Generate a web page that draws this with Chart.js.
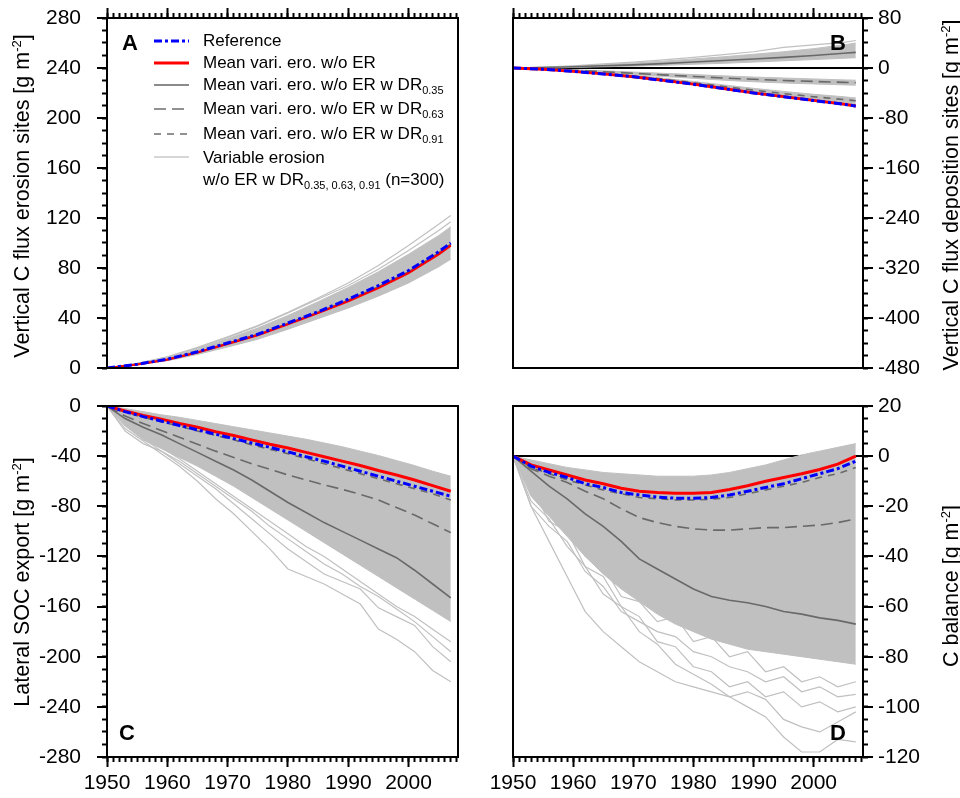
<!DOCTYPE html>
<html>
<head>
<meta charset="utf-8">
<script src="https://cdn.jsdelivr.net/npm/chart.js@4"></script>
<style>
  body { margin: 0; background: #fff; font-family: "Liberation Sans", Arial, Helvetica, sans-serif; }
  #wrap { position: relative; width: 960px; height: 798px; overflow: hidden; }
  canvas { position: absolute; }
  .t { position: absolute; white-space: nowrap; color: #000; }
  .ttl { font-size: 21.5px; transform: translate(-50%, -50%) rotate(-90deg); }
  .ltr { font-size: 22px; font-weight: bold; line-height: 26px; }
  .lg { font-size: 17px; line-height: 20px; left: 203px; }
  sub { font-size: 11px; vertical-align: -4px; line-height: 0; }
  sup { font-size: 13px; vertical-align: 8px; line-height: 0; }
</style>
</head>
<body>
<div id="wrap">
  <canvas id="cA" width="480" height="400" style="left:0;top:0"></canvas>
  <canvas id="cB" width="480" height="400" style="left:480px;top:0"></canvas>
  <canvas id="cC" width="480" height="418" style="left:0;top:380px"></canvas>
  <canvas id="cD" width="480" height="418" style="left:480px;top:380px"></canvas>

  <div class="t ttl" style="left:22px;top:196px">Vertical C flux erosion sites [g m<sup>-2</sup>]</div>
  <div class="t ttl" style="left:22px;top:582px">Lateral SOC export [g m<sup>-2</sup>]</div>
  <div class="t ttl" style="left:951px;top:195px">Vertical C flux deposition sites [g m<sup>-2</sup>]</div>
  <div class="t ttl" style="left:951px;top:586px">C balance [g m<sup>-2</sup>]</div>

  <div class="t ltr" style="left:122px;top:30px">A</div>
  <div class="t ltr" style="left:830px;top:30px">B</div>
  <div class="t ltr" style="left:119px;top:720px">C</div>
  <div class="t ltr" style="left:830px;top:720px">D</div>

  <svg class="t" style="left:150px;top:30px" width="45" height="135">
    <line x1="4" y1="11" x2="39" y2="11" stroke="#0000ff" stroke-width="3" stroke-dasharray="8 3 3 3"/>
    <line x1="4" y1="33" x2="39" y2="33" stroke="#ff0000" stroke-width="3"/>
    <line x1="4" y1="55" x2="39" y2="55" stroke="rgb(100,100,100)" stroke-width="1.6"/>
    <line x1="4" y1="79" x2="39" y2="79" stroke="rgb(110,110,110)" stroke-width="1.6" stroke-dasharray="12 6"/>
    <line x1="4" y1="104" x2="39" y2="104" stroke="rgb(110,110,110)" stroke-width="1.6" stroke-dasharray="7 6"/>
    <line x1="4" y1="127" x2="39" y2="127" stroke="rgb(200,200,200)" stroke-width="1.6"/>
  </svg>
  <div class="t lg" style="top:31px">Reference</div>
  <div class="t lg" style="top:53px">Mean vari. ero. w/o ER</div>
  <div class="t lg" style="top:75px">Mean vari. ero. w/o ER w DR<sub>0.35</sub></div>
  <div class="t lg" style="top:99px">Mean vari. ero. w/o ER w DR<sub>0.63</sub></div>
  <div class="t lg" style="top:124px">Mean vari. ero. w/o ER w DR<sub>0.91</sub></div>
  <div class="t lg" style="top:148px">Variable erosion</div>
  <div class="t lg" style="top:170px">w/o ER w DR<sub>0.35, 0.63, 0.91</sub> (n=300)</div>
</div>

<script>
// years used by the smooth panels (A, B) and the jagged ones (C, D)
const years = [1950, 1955, 1960, 1965, 1970, 1975, 1980, 1985, 1990, 1995, 2000, 2005, 2007]
const years3 = [1950, 1953, 1956, 1959, 1962, 1965, 1968, 1971, 1974, 1977, 1980, 1983, 1986, 1989, 1992, 1995, 1998, 2001, 2004, 2007]

// A: vertical C flux, erosion sites
const aRef  = [0, 3, 7, 13, 20, 27, 36, 45, 55, 66, 78, 93, 100]
const aMean = [0, 2.8, 6.7, 12.4, 19.3, 26.3, 35, 44, 53.5, 64, 76, 91, 98]
const aDr35 = [0, 2.9, 6.8, 12.6, 19.6, 26.7, 35.5, 44.6, 54.3, 65, 77, 92, 99]
const aDr63 = [0, 2.9, 6.8, 12.5, 19.5, 26.5, 35.3, 44.3, 54, 64.5, 76.5, 91.5, 98.5]
const aDr91 = [0, 2.9, 6.8, 12.5, 19.4, 26.4, 35.2, 44.2, 53.8, 64.3, 76.3, 91.3, 98.3]
const aHigh = [0, 3.5, 8.5, 15.5, 23.5, 32, 42, 53, 64.5, 77, 91, 106, 113]
const aLow  = [0, 2.4, 5.8, 10.8, 16.8, 23, 31, 39.5, 48, 57.5, 68, 81, 87]
const aOut1 = [0, 3.8, 9, 16.5, 25, 34, 44.5, 56, 68, 82, 98, 115, 122]
const aOut2 = [0, 3.6, 8.7, 16, 24.5, 33.5, 44, 55, 66, 79, 94, 110, 117]

// B: vertical C flux, deposition sites
const bRef  = [0, -2, -5.5, -9.5, -14, -20, -26, -33, -40, -46, -52, -58, -61]
const bMean = [0, -2, -5.4, -9.4, -13.9, -19.8, -25.8, -32.8, -39.8, -45.8, -51.8, -57.8, -60.8]
const bDr91 = [0, -1.8, -5, -8.6, -12.8, -18, -23.5, -29.5, -35.5, -41, -46, -50.5, -52.5]
const bDr63 = [0, -1.5, -3.5, -6, -8.5, -11, -13.5, -16, -18, -20, -21.5, -23, -23.5]
const bDr35 = [0, 0.8, 2, 3.5, 5, 7, 9.5, 12, 14.5, 17, 20, 23.5, 25]
const b35Hi = [0, 1.3, 3, 5.5, 8, 11, 14.5, 18, 22, 26, 31, 37, 40]
const b35Lo = [0, 0.4, 1, 2, 3, 4.3, 6, 7.5, 9.5, 11.5, 13.5, 15.5, 16.5]
const b35Out = [0, 1.5, 3.5, 6.5, 9.5, 13, 17, 21.5, 26, 33, 37, 41, 44]
const b63Hi = [0, -1, -2.5, -4.5, -6.5, -8.5, -10.5, -12.5, -14.5, -16, -17.5, -19, -19.5]
const b63Lo = [0, -2, -4.5, -7.5, -10.5, -13.5, -16.5, -19.5, -22, -24, -25.5, -27, -27.5]
const b91Hi = [0, -1.5, -4.2, -7.5, -11.5, -16.5, -21.5, -27, -32.5, -37.5, -42, -46, -48]
const b91Lo = [0, -2.1, -5.8, -10, -14.6, -20.8, -27, -34, -41.2, -47.4, -53.5, -59.5, -62.5]

// C: lateral SOC export
const cRef  = [0, -4.5, -8.5, -12, -15.5, -19, -22.5, -26, -29.5, -33, -36.5, -40.5, -44, -48, -52, -56, -60, -64, -68, -72]
const cMean = [0, -4, -7.5, -10.5, -14, -17, -20.5, -23.5, -27, -30.5, -33.5, -37, -40.5, -44, -47.5, -51.5, -55, -59, -63.5, -68]
const cDr91 = [0, -5, -9, -12.5, -16, -20, -23.5, -27, -31, -34.5, -38, -42, -46, -50, -54, -58, -62, -66, -70, -75]
const cDr63 = [0, -8, -14, -19.5, -25, -30.5, -36, -41, -46, -50.5, -55, -59, -63, -66.5, -70.5, -75, -81, -87, -94, -101]
const cDr35 = [0, -10, -17, -23, -30, -37, -44, -51, -59, -68, -77, -85, -93, -100, -107, -114, -121, -131, -142, -153]
const cHigh = [0, -2, -4.5, -7, -9, -11.5, -14, -16.5, -19, -21.5, -24, -26.5, -29.5, -32.5, -36, -39.5, -43.5, -47.5, -52, -56]
const cLow  = [0, -16, -27, -34, -41, -48, -56, -64, -73, -82, -91, -100, -109, -118, -127, -136, -145, -154, -163, -172]
const cOut1 = [0, -18, -28, -38, -48, -60, -74, -86, -100, -114, -130, -136, -142, -150, -158, -178, -186, -196, -211, -220]
const cOut2 = [0, -14, -26, -36, -46, -56, -66, -78, -90, -102, -114, -124, -134, -140, -146, -161, -168, -175, -192, -204]
const cOut3 = [0, -20, -30, -36, -44, -54, -64, -74, -84, -96, -106, -116, -126, -134, -144, -152, -162, -172, -184, -196]
const cOut4 = [0, -12, -25, -33, -42, -52, -62, -72, -82, -92, -102, -112, -120, -130, -140, -150, -160, -168, -178, -188]

// D: C balance
const dRef  = [0, -4, -6.5, -8.5, -11, -12.5, -14.5, -15.5, -16.3, -16.8, -16.8, -16.5, -15.5, -14, -12.5, -11, -9, -7, -5, -2]
const dMean = [0, -3.5, -5.5, -7.5, -9.5, -11, -12.8, -14, -14.5, -14.8, -14.8, -14.5, -13.3, -11.8, -10, -8.5, -7, -5.3, -3.2, 0]
const dDr91 = [0, -4.5, -7, -9.5, -11.5, -13.5, -15, -16.5, -17, -17.5, -17.5, -17.2, -16.5, -15, -13.5, -12, -10.5, -8.5, -7, -4.5]
const dDr63 = [0, -5, -8, -10.5, -14, -17, -21, -24.5, -26.5, -28, -29, -29.5, -29.5, -29, -28.5, -28.5, -28, -27.5, -26.5, -25]
const dDr35 = [0, -6, -12, -17, -23, -28, -34, -41, -45, -49, -53, -56, -57.5, -58.5, -60, -62, -63, -64.5, -65.5, -67]
const dHigh = [0, -1.5, -3, -4.5, -5.5, -6.5, -7, -7.5, -8, -8, -8, -7.5, -6.5, -5, -3.5, -1.5, 0.5, 2, 3.5, 5]
const dLow  = [0, -16, -24, -32, -40, -47, -53, -58, -63, -67, -70, -73, -75, -77, -78, -79, -80, -81, -82, -83]
const dOut1 = [0, -20, -34, -48, -62, -70, -76, -82, -86, -90, -92, -94, -96, -100, -104, -112, -118, -118, -113, -114]
const dOut2 = [0, -18, -25, -36, -44, -55, -60, -70, -75, -83, -87, -91, -96, -94, -97, -105, -108, -110, -106, -102]
const dOut3 = [0, -12, -26, -30, -44, -48, -60, -64, -74, -76, -84, -86, -92, -90, -96, -94, -100, -98, -102, -100]
const dOut4 = [0, -10, -22, -26, -40, -44, -56, -58, -66, -64, -74, -72, -80, -78, -86, -84, -90, -88, -92, -90]
const dOut5 = [0, -20, -28, -34, -46, -52, -62, -66, -70, -72, -78, -80, -84, -86, -90, -88, -94, -92, -96, -95]

const FONT = "'Liberation Sans', Arial, Helvetica, sans-serif"
const GRAY = 'rgb(192,192,192)'
const DARK = 'rgb(105,105,105)'
const BLUE = '#0000ff'
const RED = '#ff0000'

function pts(xs, ys) {
  return xs.map((x, i) => ({ x: x, y: ys[i] }))
}

function line(data, color, width, dash) {
  return { data: data, borderColor: color, borderWidth: width, borderDash: dash || [],
    pointRadius: 0, fill: false, tension: 0 }
}

// upper edge of the dense bundle of runs, filled down to the next dataset
function band(data) {
  return { data: data, borderColor: GRAY, borderWidth: 1, pointRadius: 0, tension: 0,
    fill: '+1', backgroundColor: GRAY }
}

// frame round the plot area
const frame = {
  id: 'frame',
  afterDraw(chart) {
    const { ctx, chartArea: a } = chart
    ctx.save()
    ctx.strokeStyle = '#000'
    ctx.lineWidth = 2
    ctx.strokeRect(a.left, a.top, a.right - a.left, a.bottom - a.top)
    ctx.restore()
  }
}

// axes keep fixed sizes so the four plot areas line up
function fixW(w) {
  return s => { s.width = w; s.paddingTop = 0; s.paddingBottom = 0 }
}
function fixH(h) {
  return s => { s.height = h; s.paddingLeft = 0; s.paddingRight = 0 }
}

function makeScales(c) {
  const tickFont = { family: FONT, size: 21 }
  return {
    x: {
      type: 'linear', position: c.xPos, min: 1950, max: 2008.2, bounds: 'data', weight: 1,
      ticks: { stepSize: 10, display: c.xLabels, includeBounds: false, maxTicksLimit: 1000,
        padding: 4, color: '#000', font: tickFont, maxRotation: 0, autoSkip: false,
        callback: v => String(v) },
      grid: { drawOnChartArea: false, tickLength: 10, tickWidth: 2, tickColor: '#000' },
      border: { color: '#000', width: 2 },
      afterFit: fixH(c.xSize)
    },
    xm: {
      type: 'linear', position: c.xPos, min: 1950, max: 2008.2, bounds: 'data', weight: 0,
      ticks: { stepSize: 1, display: false, includeBounds: false, maxTicksLimit: 1000 },
      grid: { drawOnChartArea: false, tickLength: 5, tickWidth: 2, tickColor: '#000' },
      border: { display: false },
      afterFit: fixH(0)
    },
    y: {
      type: 'linear', position: c.yPos, min: c.yMin, max: c.yMax, bounds: 'data', weight: 1,
      z: c.zero ? 1 : 0,
      ticks: { stepSize: c.yMajor, includeBounds: false, maxTicksLimit: 1000,
        padding: c.yPos === 'left' ? 16 : 5, color: '#000', font: tickFont,
        callback: v => String(v) },
      grid: { drawOnChartArea: !!c.zero, tickLength: 10, tickWidth: 2, tickColor: '#000',
        lineWidth: 2,
        color: ctx => (ctx.tick && ctx.tick.value === 0) ? '#000' : 'rgba(0,0,0,0)' },
      border: { color: '#000', width: 2 },
      afterFit: fixW(c.ySize)
    },
    ym: {
      type: 'linear', position: c.yPos, min: c.yMin, max: c.yMax, bounds: 'data', weight: 0,
      ticks: { stepSize: c.yMinor, display: false, includeBounds: false, maxTicksLimit: 1000 },
      grid: { drawOnChartArea: false, tickLength: 5, tickWidth: 2, tickColor: '#000' },
      border: { display: false },
      afterFit: fixW(0)
    }
  }
}

function makeChart(id, c) {
  const canvas = document.getElementById(id)
  return new Chart(canvas.getContext('2d'), {
    type: 'line',
    data: { datasets: c.datasets },
    options: {
      responsive: false,
      animation: false,
      events: [],
      layout: { padding: c.pad },
      scales: makeScales(c),
      plugins: { legend: { display: false }, tooltip: { enabled: false } }
    },
    plugins: [frame]
  })
}

makeChart('cA', {
  pad: { left: 0, top: 0, right: 22, bottom: 32 },
  xPos: 'top', xLabels: false, xSize: 18,
  yPos: 'left', yMin: 0, yMax: 280, yMajor: 40, yMinor: 10, ySize: 107,
  datasets: [
    line(pts(years, aRef), BLUE, 3, [8, 3, 3, 3]),
    line(pts(years, aMean), RED, 2.2),
    line(pts(years, aDr91), DARK, 1.6, [7, 6]),
    line(pts(years, aDr63), DARK, 1.6, [12, 6]),
    line(pts(years, aDr35), DARK, 1.6),
    line(pts(years, aOut1), GRAY, 1.2),
    line(pts(years, aOut2), GRAY, 1.2),
    band(pts(years, aHigh)),
    line(pts(years, aLow), GRAY, 1)
  ]
})

makeChart('cB', {
  pad: { left: 33, top: 0, right: 0, bottom: 32 },
  xPos: 'top', xLabels: false, xSize: 18,
  yPos: 'right', yMin: -480, yMax: 80, yMajor: 80, yMinor: 20, ySize: 97, zero: true,
  datasets: [
    line(pts(years, bRef), BLUE, 3, [8, 3, 3, 3]),
    line(pts(years, bMean), RED, 3),
    line(pts(years, bDr91), DARK, 1.6, [7, 6]),
    line(pts(years, bDr63), DARK, 1.6, [12, 6]),
    line(pts(years, bDr35), DARK, 1.6),
    line(pts(years, b35Out), GRAY, 1.2),
    band(pts(years, b35Hi)),
    line(pts(years, b35Lo), GRAY, 1),
    band(pts(years, b63Hi)),
    line(pts(years, b63Lo), GRAY, 1),
    band(pts(years, b91Hi)),
    line(pts(years, b91Lo), GRAY, 1)
  ]
})

makeChart('cC', {
  pad: { left: 0, top: 26, right: 22, bottom: 0 },
  xPos: 'bottom', xLabels: true, xSize: 41,
  yPos: 'left', yMin: -280, yMax: 0, yMajor: 40, yMinor: 10, ySize: 107,
  datasets: [
    line(pts(years3, cRef), BLUE, 3, [8, 3, 3, 3]),
    line(pts(years3, cMean), RED, 3),
    line(pts(years3, cDr91), DARK, 1.6, [7, 6]),
    line(pts(years3, cDr63), DARK, 1.6, [12, 6]),
    line(pts(years3, cDr35), DARK, 1.6),
    line(pts(years3, cOut1), GRAY, 1.2),
    line(pts(years3, cOut2), GRAY, 1.2),
    line(pts(years3, cOut3), GRAY, 1.2),
    line(pts(years3, cOut4), GRAY, 1.2),
    band(pts(years3, cHigh)),
    line(pts(years3, cLow), GRAY, 1)
  ]
})

makeChart('cD', {
  pad: { left: 33, top: 26, right: 0, bottom: 0 },
  xPos: 'bottom', xLabels: true, xSize: 41,
  yPos: 'right', yMin: -120, yMax: 20, yMajor: 20, yMinor: 5, ySize: 97, zero: true,
  datasets: [
    line(pts(years3, dRef), BLUE, 3, [8, 3, 3, 3]),
    line(pts(years3, dMean), RED, 3),
    line(pts(years3, dDr91), DARK, 1.6, [7, 6]),
    line(pts(years3, dDr63), DARK, 1.6, [12, 6]),
    line(pts(years3, dDr35), DARK, 1.6),
    line(pts(years3, dOut1), GRAY, 1.2),
    line(pts(years3, dOut2), GRAY, 1.2),
    line(pts(years3, dOut3), GRAY, 1.2),
    line(pts(years3, dOut4), GRAY, 1.2),
    line(pts(years3, dOut5), GRAY, 1.2),
    band(pts(years3, dHigh)),
    line(pts(years3, dLow), GRAY, 1)
  ]
})
</script>
</body>
</html>
